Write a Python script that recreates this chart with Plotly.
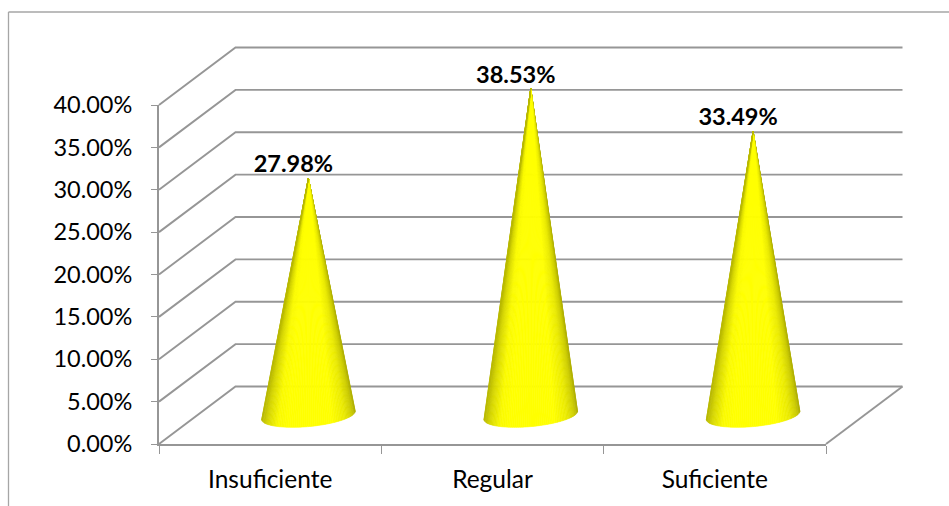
import math
import plotly.graph_objects as go

# Survey levels and their shares (percent)
categories = ["Insuficiente", "Regular", "Suficiente"]
values = [27.98, 38.53, 33.49]
value_ticks = [0, 5, 10, 15, 20, 25, 30, 35, 40]

FONT = "Lato"
GRID = "#969696"

# Page size and the front plane of the oblique box, in pixels
W, H = 949, 506
LEFT, RIGHT, TOP, BOTTOM = 159, 826, 105, 444
UNIT_X = (RIGHT - LEFT) / 3
UNIT_Y = (BOTTOM - TOP) / 40

# Receding axis: one full depth unit shifts a point by this many data units
DEPTH_X = 76.5 / UNIT_X
DEPTH_Y = 57.5 / UNIT_Y


def project(u, v, d=0.0):
    """Oblique projection of category position, value and depth."""
    return u + d * DEPTH_X, v + d * DEPTH_Y


def polyline(points):
    xs, ys = zip(*[project(*p) for p in points])
    return go.Scatter(x=list(xs), y=list(ys), mode="lines",
                      line=dict(color=GRID, width=1.9), hoverinfo="skip", showlegend=False)


def shade(t):
    """Rim darkening across the visible face of a cone (t runs left to right)."""
    stops = [(0.0, (185, 185, 0)), (0.06, (215, 215, 0)), (0.17, (250, 250, 0)), (0.27, (255, 255, 0)),
             (0.75, (255, 255, 0)), (0.88, (235, 235, 0)), (0.96, (205, 205, 0)), (1.0, (175, 175, 0))]
    for (a, ca), (b, cb) in zip(stops, stops[1:]):
        if t <= b:
            f = (t - a) / (b - a)
            return "rgb(%d,%d,%d)" % tuple(round(p + (q - p) * f) for p, q in zip(ca, cb))
    return "rgb(175,175,0)"


fig = go.Figure()

# Back wall and side wall grid
for v in value_ticks:
    fig.add_trace(polyline([(-0.5, v, 0), (-0.5, v, 1), (2.5, v, 1)]))
fig.add_trace(polyline([(2.5, 0, 0), (2.5, 0, 1)]))

# Cones: a fan of thin triangles from the apex to the front arc of the base
RADIUS_U = 44 / UNIT_X
RADIUS_D = 0.21
STEPS = 70
start = math.radians(20.3)
sweep = math.radians(180)
for i, v in enumerate(values):
    apex = project(i, v, 0.5)
    arc = []
    for k in range(STEPS + 1):
        th = start - sweep * k / STEPS
        arc.append(project(i + RADIUS_U * math.cos(th), 0, 0.5 + RADIUS_D * math.sin(th)))
    left = arc[-1][0]
    right = arc[0][0]
    for k in range(STEPS):
        a, b = arc[k], arc[k + 1]
        colour = shade(((a[0] + b[0]) / 2 - left) / (right - left))
        fig.add_trace(go.Scatter(
            x=[apex[0], a[0], b[0], apex[0]], y=[apex[1], a[1], b[1], apex[1]],
            mode="lines", fill="toself", fillcolor=colour,
            line=dict(color=colour, width=0.6), hoverinfo="skip", showlegend=False))

# Value labels sit up and to the left of each apex
label_x, label_y = zip(*[project(i - 15 / UNIT_X, v + 12 / UNIT_Y, 0.5) for i, v in enumerate(values)])
fig.add_trace(go.Scatter(
    x=list(label_x), y=list(label_y), mode="text",
    text=["%.2f%%" % v for v in values], textposition="middle center",
    textfont=dict(family=FONT, size=23.5, color="#000000", weight="bold"),
    hoverinfo="skip", showlegend=False))

# The visible axes span the front plane only; this invisible trace keeps them drawn
fig.add_trace(go.Scatter(x=[0, 1, 2], y=values, xaxis="x2", yaxis="y2", mode="markers",
                         marker=dict(opacity=0), hoverinfo="skip", showlegend=False))

frame = dict(color="#a6a6a6", width=1.3)
fig.update_layout(
    width=W, height=H, margin=dict(l=0, r=0, t=0, b=0, autoexpand=False),
    paper_bgcolor="#ffffff", plot_bgcolor="rgba(0,0,0,0)", showlegend=False,
    font=dict(family=FONT, size=23, color="#000000"),
    # Full-page axes carrying the projected marks, on the same scale as the visible ones
    xaxis=dict(domain=[0, 1], range=[-0.5 - LEFT / UNIT_X, -0.5 + (W - LEFT) / UNIT_X], visible=False),
    yaxis=dict(domain=[0, 1], range=[-(H - BOTTOM) / UNIT_Y, BOTTOM / UNIT_Y], visible=False),
    xaxis2=dict(
        domain=[LEFT / W, RIGHT / W], range=[-0.5, 2.5], anchor="y2", tickmode="array",
        tickvals=list(range(len(categories))), ticktext=categories,
        ticks="outside", ticklen=8, tickcolor="rgba(0,0,0,0)",
        minor=dict(tickmode="array", tickvals=[-0.5, 0.5, 1.5, 2.5], ticks="outside",
                   ticklen=8, tickcolor=GRID, tickwidth=1.2),
        showline=True, linecolor=GRID, linewidth=1.9, showgrid=False, zeroline=False,
        ticklabelstandoff=5, tickfont=dict(family=FONT, size=24.5),
    ),
    yaxis2=dict(
        domain=[(H - BOTTOM) / H, (H - TOP) / H], range=[0, 40], anchor="x2", tickmode="array", tickvals=value_ticks,
        ticktext=["%.2f%%" % v for v in value_ticks], ticks="outside", ticklen=6, tickcolor=GRID, tickwidth=1.2,
        showline=True, linecolor=GRID, linewidth=1.9, showgrid=False, zeroline=False,
        ticklabelstandoff=14, tickfont=dict(family=FONT, size=23.5),
    ),
    # Chart frame: only its top and left sides fall on the page
    shapes=[
        dict(type="line", xref="paper", yref="paper", x0=8.5 / W, x1=1, y0=(H - 12) / H, y1=(H - 12) / H,
             line=frame, layer="below"),
        dict(type="line", xref="paper", yref="paper", x0=8.5 / W, x1=8.5 / W, y0=0, y1=(H - 12) / H,
             line=frame, layer="below"),
    ],
)
fig.write_html("out.html")
